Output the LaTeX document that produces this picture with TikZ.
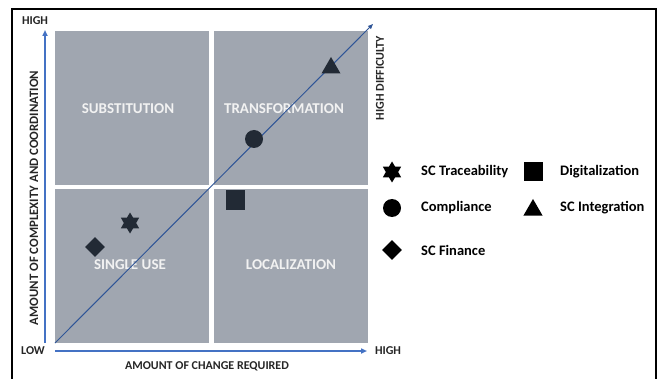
\documentclass[tikz,border=0pt]{standalone}
\usepackage{fontspec}
\setmainfont{Carlito}
\usetikzlibrary{shapes.geometric, arrows.meta}

\definecolor{quadgray}{HTML}{A0A6B0}
\definecolor{axisblue}{HTML}{4472C4}
\definecolor{diagblue}{HTML}{2F5597}
\definecolor{markdark}{HTML}{222A35}

\begin{document}
\begin{tikzpicture}[x=1pt, y=-1pt, font=\bfseries]
    \tikzset{
      quadrant/.style={fill=quadgray, minimum width=154pt, minimum height=154pt,
        inner sep=0pt, anchor=north west},
      quadlabel/.style={text=white!95!black, font=\fontsize{15}{17}\selectfont\bfseries},
      axislabel/.style={text=black!85, font=\fontsize{12}{14}\selectfont\bfseries},
      legendtext/.style={anchor=west, inner sep=0pt, font=\fontsize{14.5}{16}\selectfont\bfseries},
      axisline/.style={axisblue, line width=1.5pt, -{Triangle[length=6pt,width=5pt]}},
      mstar/.style={star, star points=6, star point ratio=1.7, minimum size=21pt, inner sep=0pt, fill},
      mcircle/.style={circle, minimum size=18pt, inner sep=0pt, fill},
      mdiamond/.style={diamond, minimum size=20pt, inner sep=0pt, fill},
      msquare/.style={rectangle, minimum size=19pt, inner sep=0pt, fill},
      mtriangle/.style={regular polygon, regular polygon sides=3, minimum size=22pt, inner sep=0pt, fill},
    }
    \useasboundingbox (0,0) rectangle (660,379);
    \fill[white] (0,0) rectangle (660,379);
    \draw[line width=2pt] (12,380) -- (12,9) -- (656,9) -- (656,380);

    % quadrants
    \node [quadrant] (subst)  at (55,31)   {};
    \node [quadrant] (transf) at (214,31)  {};
    \node [quadrant] (single) at (55,189)  {};
    \node [quadrant] (local)  at (214,189) {};
    \node [quadlabel] (substlbl)  at (128,109) {SUBSTITUTION};
    \node [quadlabel] (transflbl) at (284,109) {TRANSFORMATION};
    \node [quadlabel] (singlelbl) at (130,265) {SINGLE USE};
    \node [quadlabel] (locallbl)  at (291,265) {LOCALIZATION};

    % axes
    \coordinate (ybot) at (45,343);
    \coordinate (ytop) at (45,30);
    \coordinate (xleft) at (55,351);
    \coordinate (xright) at (367,351);
    \coordinate (dstart) at (55,343);
    \coordinate (dend) at (373,24);
    \draw [axisline] (ybot) -- (ytop);
    \draw [axisline] (xleft) -- (xright);
    \draw [diagblue, line width=1pt, -{Triangle[length=5pt,width=4pt]}] (dstart) -- (dend);

    \node [axislabel] (yhigh) at (35,21)  {HIGH};
    \node [axislabel] (xlow)  at (33,351) {LOW};
    \node [axislabel] (xhigh) at (388,351) {HIGH};
    \node [axislabel] (xname) at (207,366) {AMOUNT OF CHANGE REQUIRED};
    \node [axislabel, rotate=90, font=\fontsize{12.8}{14}\selectfont\bfseries] (yname) at (34,198)
      {AMOUNT OF COMPLEXITY AND COORDINATION};
    \node [axislabel, rotate=90] (diff) at (380,78) {HIGH DIFFICULTY};

    % markers in the matrix
    \node [mtriangle, markdark] (integ)  at (331,68)  {};
    \node [mcircle, markdark]   (compl)  at (254,139) {};
    \node [msquare, markdark]   (digit)  at (235,200) {};
    \node [mstar, markdark]     (trace)  at (130,223) {};
    \node [mdiamond, markdark]  (fin)    at (95,247)  {};

    % legend
    \foreach \shp/\xx/\yy in {mstar/392/172, msquare/533/172, mcircle/392/208,
        mtriangle/533/210, mdiamond/392/250}
      \node [\shp, black] at (\xx,\yy) {};
    \foreach \xx/\yy/\txt in {421/172/SC Traceability, 560/172/Digitalization,
        421/208/Compliance, 560/208/SC Integration, 421/250/SC Finance}
      \node [legendtext] at (\xx,\yy) {\txt};
  \end{tikzpicture}
\end{document}
